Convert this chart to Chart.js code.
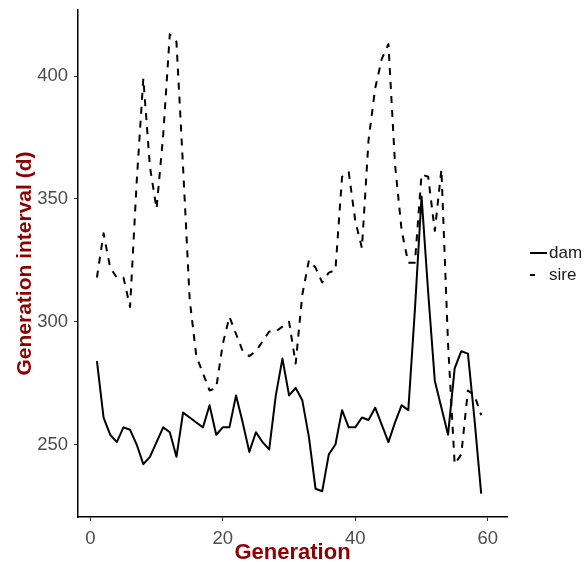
<!DOCTYPE html>
<html>
<head>
<meta charset="utf-8">
<script src="https://cdn.jsdelivr.net/npm/chart.js@4/dist/chart.umd.min.js"></script>
<style>
    html, body { margin: 0; padding: 0; background: #ffffff; }
    #chart { display: block; }
</style>
</head>
<body>
<canvas id="chart" width="587" height="562"></canvas>
<script>
const generations = [1, 2, 3, 4, 5, 6, 7, 8, 9, 10, 11, 12, 13, 14, 15, 16, 17, 18, 19, 20,
    21, 22, 23, 24, 25, 26, 27, 28, 29, 30, 31, 32, 33, 34, 35, 36, 37, 38, 39, 40,
    41, 42, 43, 44, 45, 46, 47, 48, 49, 50, 51, 52, 53, 54, 55, 56, 57, 58, 59];

const damInterval = [284, 261, 254, 251, 257, 256, 250, 242, 245, 251, 257, 255, 245, 263, 261, 259, 257, 266, 254, 257,
    257, 270, 259, 247, 255, 251, 248, 270, 285, 270, 273, 268, 253, 232, 231, 246, 250, 264, 257, 257,
    261, 260, 265, 258, 251, 259, 266, 264, 305, 351, 312, 276, 265, 254, 281, 288, 287, 260, 230];

const sireInterval = [318, 336, 322, 318, 318, 306, 357, 399, 363, 346, 376, 417, 414, 363, 309, 286, 279, 272, 273, 291,
    302, 295, 288, 286, 288, 292, 296, 296, 298, 300, 283, 311, 325, 322, 316, 320, 321, 359, 361, 341,
    330, 374, 395, 407, 413, 364, 337, 324, 324, 360, 359, 337, 362, 291, 242, 246, 272, 270, 262];

const seriesNames = ["dam", "sire"];
const xTicks = [0, 20, 40, 60];
const yTicks = [250, 300, 350, 400];

const titleRed = "#8B0000";
const tickGrey = "#4d4d4d";
const fontFamily = "'Liberation Sans', Arial, sans-serif";

// punti {x, y} per ogni serie
function toPoints(values) {
    return generations.map((g, i) => ({ x: g, y: values[i] }));
}

// niente padding extra per le etichette: l'area del grafico resta fissa
function fixScale(scale, size) {
    if (scale.isHorizontal()) {
        scale.height = size;
    } else {
        scale.width = size;
    }
    scale.paddingTop = 0;
    scale.paddingBottom = 0;
    scale.paddingLeft = 0;
    scale.paddingRight = 0;
}

// legenda a destra, come in ggplot
const sideLegend = {
    id: "sideLegend",
    afterDraw(chart) {
        const ctx = chart.ctx;
        ctx.save();
        chart.data.datasets.forEach((ds, i) => {
            const y = 253 + i * 22;
            ctx.beginPath();
            ctx.setLineDash(ds.borderDash ? [5, 12] : []);
            ctx.lineWidth = ds.borderWidth;
            ctx.strokeStyle = ds.borderColor;
            ctx.moveTo(530, y);
            ctx.lineTo(547, y);
            ctx.stroke();
            ctx.setLineDash([]);
            ctx.fillStyle = "#1a1a1a";
            ctx.font = "17px " + fontFamily;
            ctx.textBaseline = "middle";
            ctx.textAlign = "left";
            ctx.fillText(ds.label, 549, y);
        });
        ctx.restore();
    }
};

function renderChart() {
    const ctx = document.getElementById("chart").getContext("2d");

    new Chart(ctx, {
        type: "line",
        data: {
            datasets: [{
                label: seriesNames[0],
                data: toPoints(damInterval),
                borderColor: "#000000",
                borderWidth: 2,
                pointRadius: 0,
                borderJoinStyle: "round"
            }, {
                label: seriesNames[1],
                data: toPoints(sireInterval),
                borderColor: "#000000",
                borderWidth: 2,
                borderDash: [7, 7],
                pointRadius: 0,
                borderJoinStyle: "round"
            }]
        },
        options: {
            responsive: false,
            animation: false,
            devicePixelRatio: 1,
            layout: { padding: { left: 0, top: 10, right: 80, bottom: 0 } },
            plugins: {
                legend: { display: false },
                tooltip: { enabled: false }
            },
            scales: {
                x: {
                    type: "linear",
                    min: -1.86,
                    max: 62.9,
                    afterBuildTicks: scale => { scale.ticks = xTicks.map(v => ({ value: v })); },
                    afterFit: scale => fixScale(scale, 45),
                    grid: { drawOnChartArea: false, tickLength: 4, color: "#333333" },
                    border: { display: true, color: "#000000", width: 1.5 },
                    ticks: {
                        padding: 7,
                        color: tickGrey,
                        font: { family: fontFamily, size: 18.5 }
                    },
                    title: {
                        display: true,
                        text: "Generation",
                        color: titleRed,
                        padding: { top: 0, bottom: -2 },
                        font: { family: fontFamily, size: 22, weight: "bold", lineHeight: 1 }
                    }
                },
                y: {
                    min: 220.5,
                    max: 426.9,
                    afterBuildTicks: scale => { scale.ticks = yTicks.map(v => ({ value: v })); },
                    afterFit: scale => fixScale(scale, 78),
                    grid: { drawOnChartArea: false, tickLength: 4, color: "#333333" },
                    border: { display: true, color: "#000000", width: 1.5 },
                    ticks: {
                        padding: 6,
                        color: tickGrey,
                        font: { family: fontFamily, size: 18.5 }
                    },
                    title: {
                        display: true,
                        text: "Generation interval (d)",
                        color: titleRed,
                        padding: { top: 15, bottom: 0 },
                        font: { family: fontFamily, size: 21, weight: "bold", lineHeight: 1 }
                    }
                }
            }
        },
        plugins: [sideLegend]
    });
}

document.addEventListener("DOMContentLoaded", renderChart);
</script>
</body>
</html>
